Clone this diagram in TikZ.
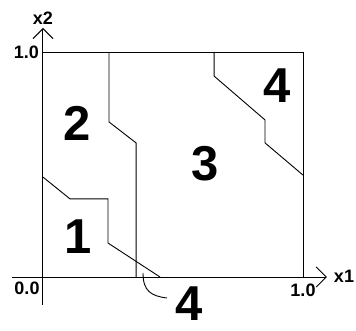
\documentclass[tikz,border=0pt]{standalone}
\usepackage{fontspec}
\setmainfont{Liberation Sans}
\usetikzlibrary{arrows.meta}
\tikzset{
    region/.style={font=\fontsize{49}{49}\selectfont\bfseries, inner sep=0pt},
    ticklab/.style={font=\fontsize{18}{18}\selectfont\bfseries, inner sep=0pt},
    border/.style={line width=0.9pt},
    axis/.style={line width=1pt, -{Straight Barb[length=10pt,width=20pt,line width=1pt]}}
}
\begin{document}
\begin{tikzpicture}[x=260pt, y=225pt]
    \useasboundingbox (-43pt,-53pt) rectangle (313pt,277pt);

    % axes
    \coordinate (xs) at (-31pt,0);
    \coordinate (xe) at (1.092,0);
    \coordinate (ys) at (0,-0.124);
    \coordinate (ye) at (0,1.107);
    \draw[axis] (xs) -- (xe);
    \draw[axis] (ys) -- (ye);

    \node[ticklab] (x1) at (301pt,1pt) {x1};
    \node[ticklab] (x2) at (0,259pt) {x2};
    \node[ticklab, anchor=east] (ytop) at (-4pt,1) {1.0};
    \node[ticklab] (orig) at (-16pt,-11pt) {0.0};
    \node[ticklab] (xright) at (1,-13pt) {1.0};

    % unit square
    \draw[border] (0,1) -- (1,1) -- (1,0);

    % boundaries
    \draw[border] (0.254,1) -- (0.254,0.689) -- (0.358,0.596) -- (0.358,0);
    \draw[border] (0,0.444) -- (0.104,0.347) -- (0.25,0.347)
        -- (0.25,0.151) -- (0.45,0);
    \draw[border] (0.658,1) -- (0.658,0.893) -- (0.854,0.698)
        -- (0.854,0.596) -- (1,0.453);

    % region labels
    \foreach \n/\px/\py in {1/35/40, 2/34/154, 3/162/113}{
        \node[region] (r\n) at (\px pt,\py pt) {\n};
    }
    \node[region] (r4a) at (234pt,191pt) {4};
    \node[region] (r4b) at (146pt,-27pt) {4};

    \coordinate (pin) at (100pt,4pt);
    \coordinate (pinend) at (124pt,-21pt);
    \draw[border] (pin) .. controls (100pt,-14pt) and (108pt,-19pt) .. (pinend);
\end{tikzpicture}
\end{document}
